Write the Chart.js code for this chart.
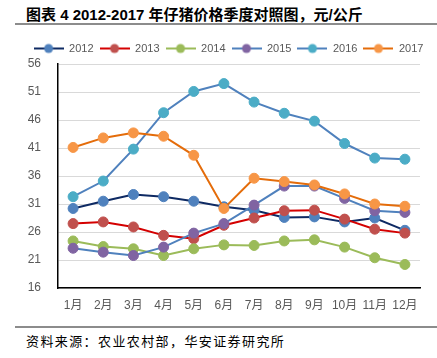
<!DOCTYPE html>
<html>
<head>
<meta charset="utf-8">
<script src="https://cdn.jsdelivr.net/npm/chart.js@4/dist/chart.umd.min.js"></script>
<style>
    html, body { margin: 0; padding: 0; background: #fff; overflow: hidden; }
    body { width: 437px; height: 358px; position: relative; }
    #title {
        position: absolute; left: 26px; top: 3px; white-space: nowrap; color: #000;
        font: bold 15px 'Liberation Sans', 'Noto Sans CJK SC', sans-serif;
    }
    .rule { position: absolute; left: 15px; right: 0; background: #8c8c8c; }
    #source {
        position: absolute; left: 26px; top: 331px; white-space: nowrap; color: #000;
        font: 13px 'Noto Sans CJK SC', sans-serif; letter-spacing: 1.4px;
    }
    #chart { position: absolute; left: 20px; top: 37px; }
</style>
</head>
<body>
<div id="title">图表 4 2012-2017 年仔猪价格季度对照图，元/公斤</div>
<div class="rule" style="top:23px;height:2px;"></div>
<canvas id="chart" width="417" height="276"></canvas>
<div class="rule" style="top:326px;height:1.5px;"></div>
<div id="source">资料来源：农业农村部，华安证券研究所</div>
<script>
const months = ['1月', '2月', '3月', '4月', '5月', '6月', '7月', '8月', '9月', '10月', '11月', '12月'];
const years = ['2012', '2013', '2014', '2015', '2016', '2017'];
const yTicks = [16, 21, 26, 31, 36, 41, 46, 51, 56];

const price2012 = [30.2, 31.5, 32.7, 32.3, 31.5, 30.5, 29.9, 28.6, 28.7, 27.8, 28.5, 26.3];
const price2013 = [27.5, 27.8, 26.9, 25.4, 24.8, 27.2, 28.5, 29.8, 29.9, 28.3, 26.5, 25.8];
const price2014 = [24.4, 23.4, 23.0, 21.8, 23.0, 23.7, 23.6, 24.4, 24.6, 23.3, 21.4, 20.2];
const price2015 = [23.1, 22.4, 21.8, 23.3, 25.8, 27.5, 30.8, 34.2, 34.2, 32.0, 29.8, 29.5];
const price2016 = [32.3, 35.1, 40.8, 47.3, 51.1, 52.5, 49.2, 47.2, 45.8, 41.8, 39.2, 39.0];
const price2017 = [41.1, 42.8, 43.7, 43.1, 39.7, 30.2, 35.6, 35.0, 34.4, 32.8, 31.0, 30.6];

const lineColors = ['#0E2A63', '#D40000', '#9BBB59', '#4F81BD', '#4F81BD', '#E46C0A'];
const pointColors = ['#4F81BD', '#C0504D', '#9BBB59', '#8064A2', '#4BACC6', '#F79646'];

// little "line with dot" picture for the legend, like the excel one
function legendSwatch(lineColor, pointColor) {
    const c = document.createElement('canvas');
    c.width = 30;
    c.height = 12;
    const ctx = c.getContext('2d');
    ctx.strokeStyle = lineColor;
    ctx.lineWidth = 2;
    ctx.beginPath();
    ctx.moveTo(0, 6);
    ctx.lineTo(30, 6);
    ctx.stroke();
    ctx.fillStyle = pointColor;
    ctx.beginPath();
    ctx.arc(15, 6, 4.5, 0, Math.PI * 2);
    ctx.fill();
    return c;
}

const series = [price2012, price2013, price2014, price2015, price2016, price2017];
const swatches = years.map((y, i) => legendSwatch(lineColors[i], pointColors[i]));

const datasets = years.map((year, i) => ({
    label: year,
    data: series[i],
    borderColor: lineColors[i],
    backgroundColor: pointColors[i],
    pointBackgroundColor: pointColors[i],
    pointBorderColor: pointColors[i],
    pointBorderWidth: 1,
    pointRadius: 5,
    borderWidth: 2,
    tension: 0,
    order: years.length - i // later years on top
}));

Chart.defaults.font.family = "'Liberation Sans', 'Noto Sans CJK SC', sans-serif";
Chart.defaults.color = '#595959';

new Chart(document.getElementById('chart'), {
    type: 'line',
    data: { labels: months, datasets: datasets },
    options: {
        responsive: false,
        animation: false,
        plugins: {
            tooltip: { enabled: false },
            legend: {
                position: 'top',
                labels: {
                    usePointStyle: true,
                    pointStyleWidth: 30,
                    padding: 6,
                    font: { size: 11 },
                    color: '#595959',
                    generateLabels: chart => chart.data.datasets.map((ds, i) => ({
                        text: ds.label,
                        pointStyle: swatches[i],
                        fillStyle: 'transparent',
                        strokeStyle: 'transparent',
                        lineWidth: 0,
                        hidden: false,
                        datasetIndex: i,
                        fontColor: '#595959'
                    }))
                }
            }
        },
        scales: {
            x: {
                offset: true,
                afterFit: axis => { axis.height = 25; },
                grid: { display: false, drawTicks: false },
                border: { color: '#000', width: 1.5 },
                ticks: {
                    font: { size: 12 },
                    padding: 10,
                    color: '#595959',
                    maxRotation: 0,
                    minRotation: 0,
                    autoSkip: false
                }
            },
            y: {
                min: 16,
                max: 56,
                afterBuildTicks: axis => { axis.ticks = yTicks.map(v => ({ value: v })); },
                afterFit: axis => { axis.width = 38; },
                grid: { color: '#D9D9D9', drawTicks: false },
                border: { color: '#000', width: 1.5 },
                ticks: { font: { size: 12 }, padding: 17, color: '#595959' }
            },
            // empty axis, only keeps the plot off the right edge
            y2: {
                position: 'right',
                grid: { display: false },
                border: { display: false },
                ticks: { display: false },
                afterFit: axis => { axis.width = 17; }
            }
        }
    }
});
</script>
</body>
</html>
